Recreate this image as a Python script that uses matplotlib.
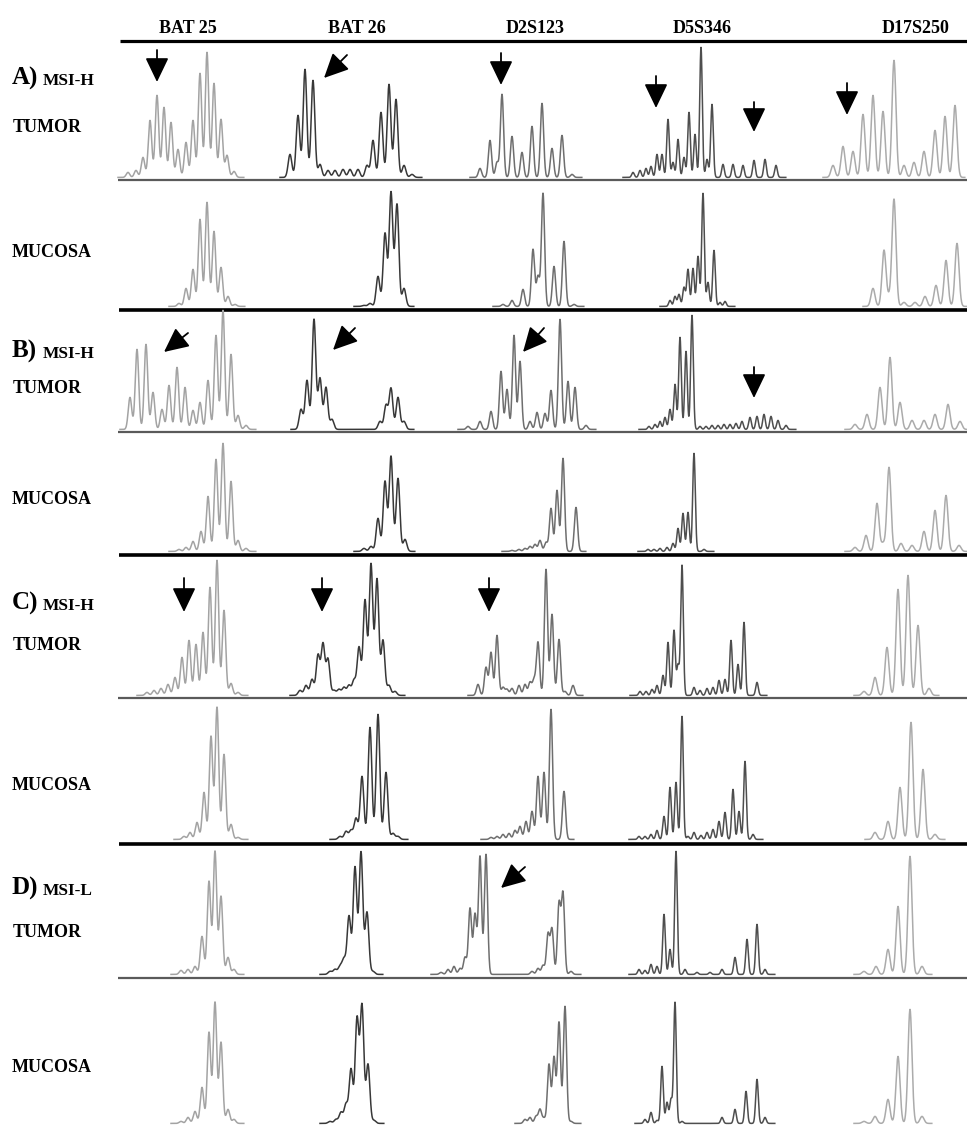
import matplotlib
matplotlib.use("Agg")
import matplotlib.pyplot as plt
import numpy as np

W, H = 967, 1127

markers = ["BAT 25", "BAT 26", "D2S123", "D5S346", "D17S250"]
marker_x = [188, 357, 535, 702, 916]

# peak positions (scan units) and peak heights (RFU) for each trace
A_TUMOR = {
    "BAT 25": ([128, 136, 143, 150, 157, 164, 171, 178, 186, 193, 200, 207, 214, 221, 227, 234],
               [5, 7, 20, 57, 82, 70, 55, 28, 35, 57, 104, 125, 94, 58, 22, 6]),
    "BAT 26": ([290, 298, 305, 313, 320, 328, 335, 343, 350, 358, 367, 373, 381, 389, 396, 404, 412],
               [23, 62, 108, 97, 13, 7, 7, 8, 8, 8, 12, 37, 65, 93, 78, 12, 3]),
    "D2S123": ([480, 490, 497, 502, 512, 522, 532, 542, 552, 562, 572],
               [9, 37, 15, 83, 41, 25, 51, 74, 29, 42, 3]),
    "D5S346": ([633, 640, 646, 651, 657, 662, 668, 673, 678, 684, 689, 695, 701, 707, 712, 723, 733, 743, 754, 765, 776],
               [5, 7, 9, 11, 23, 23, 58, 15, 38, 20, 65, 43, 130, 18, 73, 13, 13, 12, 17, 18, 12]),
    "D17S250": ([833, 843, 853, 863, 873, 883, 894, 904, 914, 924, 935, 945, 955],
                [12, 31, 26, 63, 82, 66, 117, 12, 15, 26, 47, 61, 72]),
}
A_MUCOSA = {
    "BAT 25": ([179, 186, 193, 200, 207, 214, 221, 228, 235], [3, 18, 37, 87, 104, 75, 39, 10, 2]),
    "BAT 26": ([364, 370, 378, 385, 391, 397, 404], [1, 3, 30, 73, 114, 102, 18]),
    "D2S123": ([503, 512, 523, 533, 538, 543, 554, 564, 574], [2, 6, 17, 57, 30, 113, 40, 65, 2]),
    "D5S346": ([670, 675, 679, 684, 688, 693, 698, 703, 708, 714, 720, 725],
               [6, 10, 12, 19, 37, 38, 50, 113, 24, 56, 4, 5]),
    "D17S250": ([873, 884, 889, 894, 904, 915, 925, 936, 946, 957], [18, 56, 8, 107, 4, 4, 10, 21, 46, 63]),
}
B_TUMOR = {
    "BAT 25": ([130, 137, 146, 153, 162, 169, 177, 185, 193, 200, 208, 216, 223, 231, 238, 246],
               [32, 80, 85, 37, 20, 44, 62, 42, 19, 27, 49, 94, 119, 75, 14, 4]),
    "BAT 26": ([301, 307, 314, 320, 326, 332, 380, 386, 391, 398, 404], [20, 49, 110, 51, 42, 10, 8, 24, 41, 32, 8]),
    "D2S123": ([468, 480, 491, 501, 507, 514, 520, 530, 537, 545, 551, 560, 568, 575, 586],
               [3, 8, 18, 58, 40, 94, 68, 8, 17, 16, 39, 110, 48, 42, 4]),
    "D5S346": ([649, 655, 660, 665, 670, 675, 680, 686, 692, 700, 706, 712, 718, 724, 730, 736, 742, 750, 757, 764, 771, 778, 786],
               [3, 5, 8, 12, 20, 45, 92, 78, 114, 3, 3, 4, 4, 5, 5, 6, 8, 12, 13, 15, 13, 9, 4]),
    "D17S250": ([855, 867, 880, 890, 900, 912, 924, 935, 948, 960], [5, 15, 42, 72, 27, 9, 9, 15, 25, 8]),
}
B_MUCOSA = {
    "BAT 25": ([179, 186, 193, 201, 208, 216, 223, 231, 238, 246], [2, 4, 10, 20, 55, 92, 108, 70, 11, 3]),
    "BAT 26": ([364, 371, 378, 385, 391, 398, 405], [3, 5, 33, 70, 95, 73, 12]),
    "D2S123": ([512, 519, 525, 530, 535, 540, 546, 551, 557, 563, 576], [1, 2, 3, 5, 7, 11, 9, 43, 61, 93, 44]),
    "D5S346": ([648, 654, 660, 667, 673, 678, 683, 688, 694, 704], [2, 2, 3, 4, 8, 23, 38, 39, 98, 2]),
    "D17S250": ([855, 866, 877, 883, 889, 901, 912, 924, 935, 946, 959], [4, 16, 48, 8, 84, 8, 6, 20, 41, 56, 6]),
}
C_TUMOR = {
    "BAT 25": ([147, 154, 161, 168, 175, 182, 189, 196, 203, 210, 217, 224, 231, 238],
               [3, 5, 7, 11, 18, 38, 55, 51, 63, 108, 135, 85, 12, 3]),
    "BAT 26": ([300, 306, 312, 318, 323, 328, 334, 339, 344, 349, 354, 359, 365, 371, 377, 383, 389, 395],
               [5, 10, 16, 40, 51, 36, 5, 6, 8, 10, 15, 48, 95, 131, 116, 55, 10, 4]),
    "D2S123": ([478, 486, 491, 497, 503, 507, 512, 519, 525, 530, 534, 538, 546, 552, 559, 565, 573],
               [11, 28, 43, 60, 8, 6, 7, 10, 11, 13, 15, 53, 126, 81, 56, 4, 10]),
    "D5S346": ([640, 646, 652, 657, 663, 668, 674, 678, 682, 694, 700, 707, 713, 719, 725, 731, 738, 744, 757],
               [4, 4, 6, 10, 20, 53, 65, 30, 130, 8, 5, 7, 8, 15, 16, 55, 31, 73, 13]),
    "D17S250": ([864, 875, 887, 898, 908, 918, 929], [4, 18, 48, 106, 120, 70, 7]),
}
C_MUCOSA = {
    "BAT 25": ([184, 190, 197, 204, 211, 217, 224, 231, 238], [3, 7, 17, 47, 103, 132, 85, 15, 2]),
    "BAT 26": ([340, 346, 351, 356, 362, 370, 378, 386, 393, 398], [3, 8, 9, 21, 63, 112, 125, 67, 6, 3]),
    "D2S123": ([491, 497, 503, 509, 515, 520, 526, 532, 538, 544, 551, 564],
               [2, 3, 5, 6, 9, 13, 18, 28, 63, 67, 130, 48]),
    "D5S346": ([639, 645, 651, 657, 664, 670, 676, 682, 688, 694, 701, 707, 713, 719, 725, 733, 739, 745, 753],
               [3, 3, 5, 9, 23, 52, 57, 123, 3, 7, 4, 7, 10, 18, 27, 50, 28, 78, 5]),
    "D17S250": ([875, 888, 900, 911, 923, 935], [7, 18, 52, 117, 70, 5]),
}
D_TUMOR = {
    "BAT 25": ([181, 188, 195, 202, 209, 215, 221, 228, 234], [4, 5, 8, 38, 93, 123, 78, 17, 5]),
    "BAT 26": ([330, 335, 340, 344, 349, 355, 361, 367, 373], [3, 5, 8, 15, 58, 107, 122, 62, 3]),
    "D2S123": ([441, 448, 454, 460, 465, 470, 475, 480, 486, 532, 538, 543, 548, 552, 559, 563, 571],
               [2, 5, 8, 6, 17, 66, 60, 118, 120, 3, 6, 9, 40, 45, 70, 80, 3]),
    "D5S346": ([639, 645, 651, 657, 664, 670, 676, 685, 697, 710, 722, 735, 747, 757, 765],
               [5, 4, 10, 8, 60, 25, 123, 5, 2, 2, 5, 17, 35, 50, 5]),
    "D17S250": ([864, 876, 888, 898, 910, 922], [3, 8, 25, 68, 118, 8]),
}
D_MUCOSA = {
    "BAT 25": ([181, 188, 195, 202, 209, 215, 221, 228, 234], [2, 6, 12, 36, 91, 121, 81, 14, 4]),
    "BAT 26": ([330, 336, 341, 346, 351, 357, 362, 368, 374], [2, 4, 11, 19, 54, 104, 117, 59, 3]),
    "D2S123": ([525, 530, 536, 540, 544, 549, 554, 559, 565, 571], [4, 6, 7, 14, 5, 59, 66, 101, 117, 2]),
    "D5S346": ([645, 651, 657, 662, 667, 671, 675, 682, 722, 735, 746, 757, 765],
               [4, 11, 3, 57, 21, 24, 121, 2, 6, 14, 32, 44, 6]),
    "D17S250": ([864, 875, 888, 898, 910, 922], [2, 7, 24, 67, 114, 7]),
}

# arrows: (tip position, tip height, horizontal offset of tail, tail height)
A_ARROWS = [(157, 96, 0, 128), (324, 100, 23, 123), (501, 93, 0, 125),
            (656, 70, 0, 102), (754, 46, 0, 76), (847, 63, 0, 95)]
B_ARROWS = [(164, 78, 24, 97), (333, 80, 22, 102), (523, 78, 21, 102), (754, 32, 0, 63)]
C_ARROWS = [(184, 84, 0, 118), (322, 84, 0, 118), (489, 84, 0, 118)]
D_ARROWS = [(501, 87, 24, 108)]

colors = {"BAT 25": "#a3a3a3", "BAT 26": "#383838", "D2S123": "#6e6e6e",
          "D5S346": "#4e4e4e", "D17S250": "#ababab"}
sigmas = {"BAT 25": 1.75, "BAT 26": 1.85, "D2S123": 1.6, "D5S346": 1.3, "D17S250": 2.0}

# row: data, arrows, trace baseline, separator y, separator style
rows = [
    (A_TUMOR, A_ARROWS, 178, 180, "grey"),
    (A_MUCOSA, [], 307, 310, "black"),
    (B_TUMOR, B_ARROWS, 430, 432, "grey"),
    (B_MUCOSA, [], 552, 555, "black"),
    (C_TUMOR, C_ARROWS, 696, 698, "grey"),
    (C_MUCOSA, [], 840, 844, "black"),
    (D_TUMOR, D_ARROWS, 975, 978, "grey"),
    (D_MUCOSA, [], 1124, None, None),
]

fig = plt.figure(figsize=(W / 100, H / 100), dpi=100)
serif = "Liberation Serif"

over = fig.add_axes([0, 0, 1, 1])
over.set_xlim(0, W)
over.set_ylim(H, 0)
over.axis("off")

for name, x in zip(markers, marker_x):
    over.text(x, 33, name, ha="center", va="baseline", fontsize=13,
              fontweight="bold", family=serif)
over.hlines(41, 120, W, color="black", lw=2.3)

for data, arrows, base, line_y, style in rows:
    if line_y is not None:
        if style == "grey":
            over.hlines(line_y, 118, W, color="#5a5a5a", lw=1.6)
        else:
            over.hlines(line_y, 119, W, color="black", lw=2.6)
    rax = fig.add_axes([0, (H - base) / H, 1, 150 / H])
    rax.set_xlim(0, W)
    rax.set_ylim(0, 150)
    rax.axis("off")
    rax.patch.set_alpha(0)
    for m in markers:
        xs, hs = data[m]
        s = sigmas[m]
        xx = np.arange(xs[0] - 10, xs[-1] + 10, 0.2)
        yy = np.zeros_like(xx)
        for xp, hp in zip(xs, hs):
            yy += hp * np.exp(-(xx - xp) ** 2 / (2 * s * s))
        rax.plot(xx, yy + 0.6, color=colors[m], lw=1.1, clip_on=False)
    for xt, ht, dx, hs_ in arrows:
        rax.annotate("", xy=(xt, ht), xytext=(xt + dx, hs_),
                     arrowprops=dict(arrowstyle="-|>,head_length=1.5,head_width=0.72",
                                     mutation_scale=10, color="black", lw=1.3,
                                     shrinkA=0, shrinkB=0))

labels = [
    ("A)", 85, "TUMOR", 132), ("B)", 358, "TUMOR", 393),
    ("C)", 610, "TUMOR", 650), ("D)", 895, "TUMOR", 937),
]
status = ["MSI-H", "MSI-H", "MSI-H", "MSI-L"]
mucosa_y = [257, 504, 790, 1072]
for (letter, ly, tum, ty), st, my in zip(labels, status, mucosa_y):
    over.text(12, ly, letter, fontsize=18, fontweight="bold", family=serif, va="baseline")
    over.text(43, ly, st, fontsize=12.5, fontweight="bold", family=serif, va="baseline")
    over.text(13, ty, tum, fontsize=13, fontweight="bold", family=serif, va="baseline")
    over.text(12, my, "MUCOSA", fontsize=13, fontweight="bold", family=serif, va="baseline")

fig.savefig("out.png", dpi=100)
